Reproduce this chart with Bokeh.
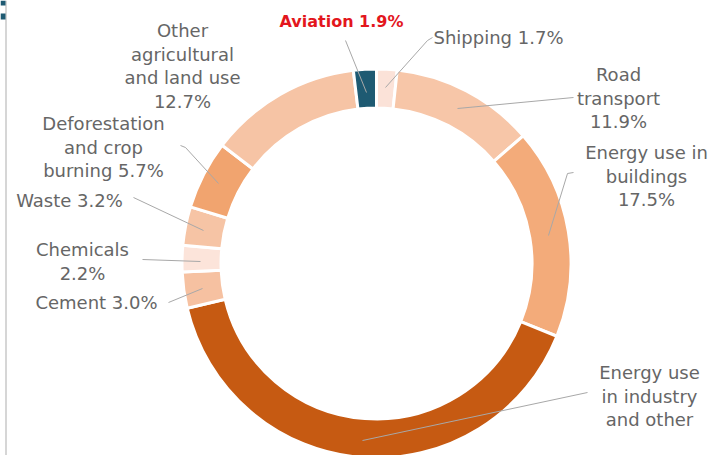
import math
from bokeh.plotting import figure
from bokeh.models import Range1d, ColumnDataSource
from bokeh.core.properties import value
from bokeh.embed import file_html
from bokeh.resources import INLINE

# ---- data (clockwise from 12 o'clock) ----
sectors = ["Shipping", "Road transport", "Energy use in buildings",
           "Energy use in industry and other", "Cement", "Chemicals", "Waste",
           "Deforestation and crop burning", "Other agricultural and land use",
           "Aviation"]
shares = [1.7, 11.9, 17.5, 40.2, 3.0, 2.2, 3.2, 5.7, 12.7, 1.9]
colors = ["#fbe2d8", "#f7c6a8", "#f3ab7a", "#c65a12", "#f6c1a1", "#fce4da",
          "#f6c4a5", "#f1a46f", "#f6c4a5", "#1e5a72"]
# label text lines; "{}" is replaced by the share
label_lines = [["Shipping {}"], ["Road", "transport", "{}"],
               ["Energy use in", "buildings", "{}"],
               ["Energy use", "in industry", "and other"],
               ["Cement {}"], ["Chemicals", "{}"], ["Waste {}"],
               ["Deforestation", "and crop", "burning {}"],
               ["Other", "agricultural", "and land use", "{}"],
               ["Aviation {}"]]

# ---- layout (pixels from top-left of page) ----
W, H = 716, 455
CX, CY = 376, 263
R_OUT, R_IN = 194.5, 155.5
label_pos = [(498, 37), (618, 74), (646, 152), (649, 372), (96, 302),
             (82, 249), (69, 200), (103, 123), (182, 30), (341, 21)]
line_h = 23.7
leaders = [[(432, 37), (427, 40), (385, 87)],
           [(573, 97), (457, 108)],
           [(573, 172), (567, 173), (548, 235)],
           [(587, 392), (362, 440)],
           [(168, 302), (202, 288)],
           [(142, 259), (200, 261)],
           [(133, 197), (203, 230)],
           [(180, 145), (185, 147), (218, 183)],
           None,
           [(345, 40), (366, 92)]]

def fy(y):
    return H - y

p = figure(width=W, height=H, output_backend="svg", toolbar_location=None,
           x_range=Range1d(0, W), y_range=Range1d(0, H), min_border=0,
           margin=(0, 0, 0, 0))
p.axis.visible = False
p.grid.visible = False
p.outline_line_color = None
p.background_fill_color = "white"
p.border_fill_color = "white"

total = sum(shares)
starts, ends = [], []
cum = 0.0
for v in shares:
    starts.append(math.pi / 2 - 2 * math.pi * cum / total)
    cum += v
    ends.append(math.pi / 2 - 2 * math.pi * cum / total)

src = ColumnDataSource(dict(name=sectors, share=shares, start=starts, end=ends,
                            color=colors))
p.annular_wedge(x=CX, y=fy(CY), inner_radius=R_IN, outer_radius=R_OUT,
                start_angle="start", end_angle="end", direction="clock",
                fill_color="color", line_color="white", line_width=3,
                source=src)

# leader lines
for ld in leaders:
    if ld is None:
        continue
    p.line([q[0] for q in ld], [fy(q[1]) for q in ld], line_color="#a8a8a8",
           line_width=1)

FONT = value("DejaVu Sans")
# labels
tx, ty, tt = [], [], []
for i, lines in enumerate(label_lines):
    if sectors[i] == "Aviation":
        continue
    x0, y0 = label_pos[i]
    for k, ln in enumerate(lines):
        tx.append(x0)
        ty.append(fy(y0 + k * line_h))
        tt.append(ln.format(f"{shares[i]:.1f}%"))
p.text(x=tx, y=ty, text=tt, text_align="center", text_baseline="middle",
       text_font=FONT, text_font_size="18px", text_color="#666666")

ia = sectors.index("Aviation")
ax, ay = label_pos[ia]
p.text(x=[ax], y=[fy(ay)], text=[label_lines[ia][0].format(f"{shares[ia]:.1f}%")],
       text_align="center", text_baseline="middle",
       text_font=FONT, text_font_size="16px",
       text_font_style="bold", text_color="#e3161d")

# page frame decoration (left edge)
p.segment(x0=[5.5], y0=[0], x1=[5.5], y1=[H], line_color="#c8c8c8", line_width=1.5)
p.quad(left=[0, 0], right=[5, 5], top=[fy(0), fy(13)], bottom=[fy(5), fy(19)],
       fill_color="#1e5a72", line_color=None)

open("out.html", "w").write(file_html(p, INLINE))
